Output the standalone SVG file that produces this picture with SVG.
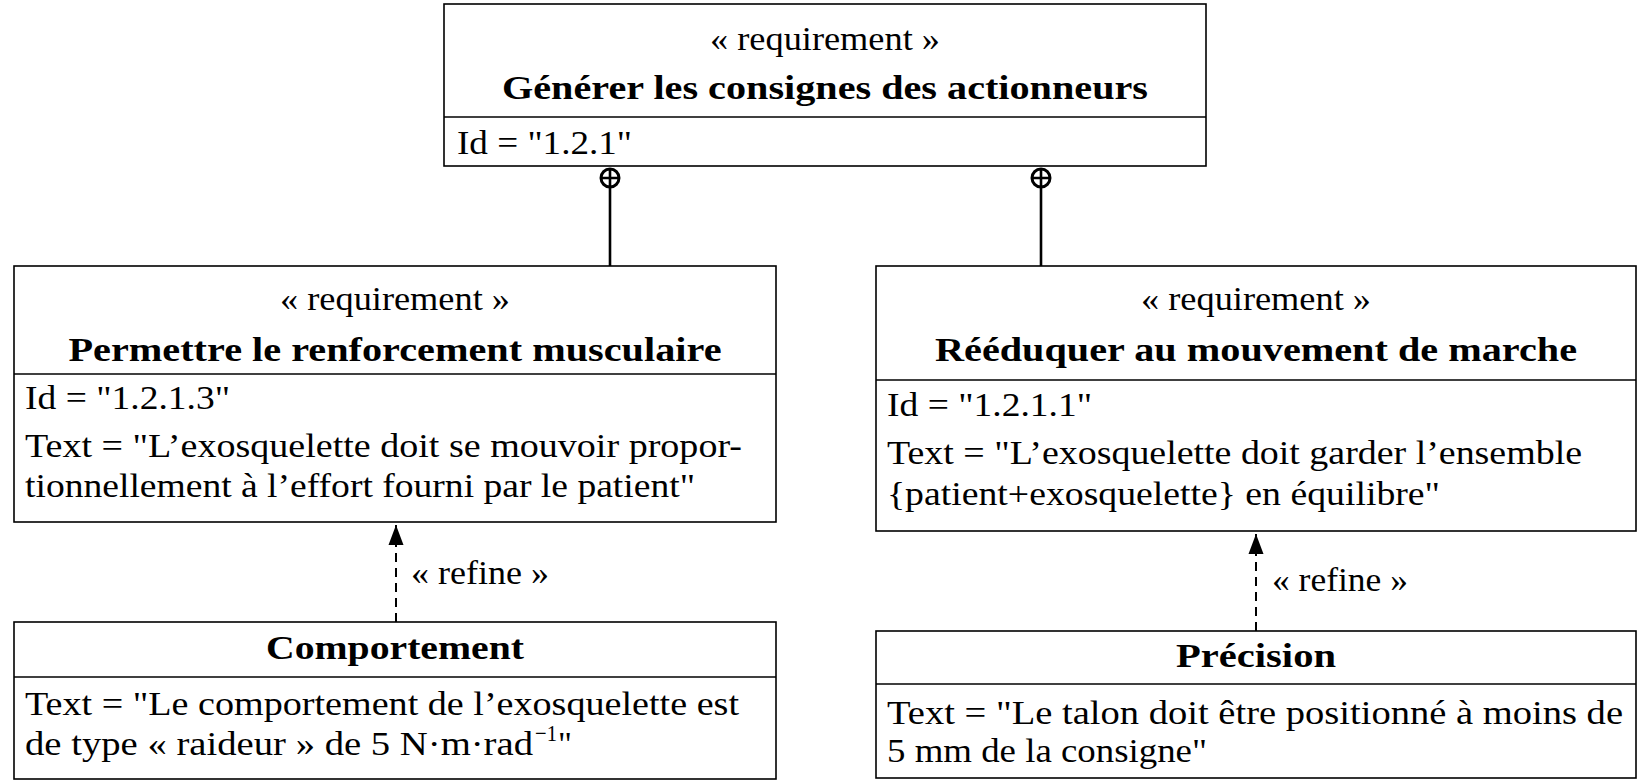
<svg xmlns="http://www.w3.org/2000/svg" width="1646" height="783" viewBox="0 0 1646 783" font-family="Liberation Serif, Tinos, Times New Roman, serif">
<defs>
<style>
.box{fill:#fff;stroke:#000;stroke-width:1.6}
.dv{stroke:#000;stroke-width:1.3;fill:none}
text{font-family:'Liberation Serif',Tinos,'Times New Roman',serif;font-size:34px;fill:#000}
.c{text-anchor:middle}
.b{font-weight:bold}
.sup{font-size:23px}
.comp{stroke:#000;stroke-width:2.6;fill:none}
.own{stroke:#000;stroke-width:3;fill:#fff}
.ownx{stroke:#000;stroke-width:2.6;fill:none}
.refine{stroke:#000;stroke-width:2;stroke-dasharray:9 6;fill:none}
</style>
<marker id="arr" viewBox="0 0 18 20" markerWidth="18" markerHeight="20" refX="20" refY="9" orient="auto" markerUnits="userSpaceOnUse">
<path d="M0,1.5 L20,9 L0,16.5 Z" fill="#000"/>
</marker>
</defs>
<rect width="1646" height="783" fill="#fff"/>

<g id="connectors">
<line class="comp" x1="610" y1="188" x2="610" y2="266"/>
<circle class="own" cx="610" cy="178" r="9"/>
<path class="ownx" d="M601,178 H619 M610,169 V187"/>
<line class="comp" x1="1041" y1="188" x2="1041" y2="266"/>
<circle class="own" cx="1041" cy="178" r="9"/>
<path class="ownx" d="M1032,178 H1050 M1041,169 V187"/>
<line class="refine" x1="396" y1="622" x2="396" y2="525" marker-end="url(#arr)"/>
<text x="411" y="584" textLength="138" lengthAdjust="spacingAndGlyphs">« refine »</text>
<line class="refine" x1="1256" y1="631" x2="1256" y2="534" marker-end="url(#arr)"/>
<text x="1272" y="591" textLength="136" lengthAdjust="spacingAndGlyphs">« refine »</text>
</g>

<g id="req-121">
<rect class="box" x="444" y="4" width="762" height="162"/>
<line class="dv" x1="444" y1="117" x2="1206" y2="117"/>
<text class="c" x="825" y="50" textLength="230" lengthAdjust="spacingAndGlyphs">« requirement »</text>
<text class="c b" x="825" y="99" textLength="646" lengthAdjust="spacingAndGlyphs">Générer les consignes des actionneurs</text>
<text x="457" y="154" textLength="175" lengthAdjust="spacingAndGlyphs">Id = "1.2.1"</text>
</g>

<g id="req-1213">
<rect class="box" x="14" y="266" width="762" height="256"/>
<line class="dv" x1="14" y1="374" x2="776" y2="374"/>
<text class="c" x="395" y="310" textLength="230" lengthAdjust="spacingAndGlyphs">« requirement »</text>
<text class="c b" x="395" y="361" textLength="653" lengthAdjust="spacingAndGlyphs">Permettre le renforcement musculaire</text>
<text x="25" y="409" textLength="205" lengthAdjust="spacingAndGlyphs">Id = "1.2.1.3"</text>
<text x="25" y="457" textLength="717" lengthAdjust="spacingAndGlyphs">Text = "L’exosquelette doit se mouvoir propor-</text>
<text x="25" y="497" textLength="670" lengthAdjust="spacingAndGlyphs">tionnellement à l’effort fourni par le patient"</text>
</g>

<g id="req-1211">
<rect class="box" x="876" y="266" width="760" height="265"/>
<line class="dv" x1="876" y1="380" x2="1636" y2="380"/>
<text class="c" x="1256" y="310" textLength="230" lengthAdjust="spacingAndGlyphs">« requirement »</text>
<text class="c b" x="1256" y="361" textLength="642" lengthAdjust="spacingAndGlyphs">Rééduquer au mouvement de marche</text>
<text x="887" y="416" textLength="205" lengthAdjust="spacingAndGlyphs">Id = "1.2.1.1"</text>
<text x="887" y="464" textLength="695" lengthAdjust="spacingAndGlyphs">Text = "L’exosquelette doit garder l’ensemble</text>
<text x="887" y="505" textLength="553" lengthAdjust="spacingAndGlyphs">{patient+exosquelette} en équilibre"</text>
</g>

<g id="comportement">
<rect class="box" x="14" y="622" width="762" height="157"/>
<line class="dv" x1="14" y1="677" x2="776" y2="677"/>
<text class="c b" x="395" y="659" textLength="258" lengthAdjust="spacingAndGlyphs">Comportement</text>
<text x="25" y="715" textLength="714" lengthAdjust="spacingAndGlyphs">Text = "Le comportement de l’exosquelette est</text>
<text x="25" y="755" textLength="508" lengthAdjust="spacingAndGlyphs">de type « raideur » de 5 N·m·rad</text>
<text class="sup" x="535" y="741" textLength="22" lengthAdjust="spacingAndGlyphs">−1</text>
<text x="558" y="755">"</text>
</g>

<g id="precision">
<rect class="box" x="876" y="631" width="760" height="147"/>
<line class="dv" x1="876" y1="684" x2="1636" y2="684"/>
<text class="c b" x="1256" y="667" textLength="160" lengthAdjust="spacingAndGlyphs">Précision</text>
<text x="887" y="724" textLength="736" lengthAdjust="spacingAndGlyphs">Text = "Le talon doit être positionné à moins de</text>
<text x="887" y="762" textLength="320" lengthAdjust="spacingAndGlyphs">5 mm de la consigne"</text>
</g>
</svg>
